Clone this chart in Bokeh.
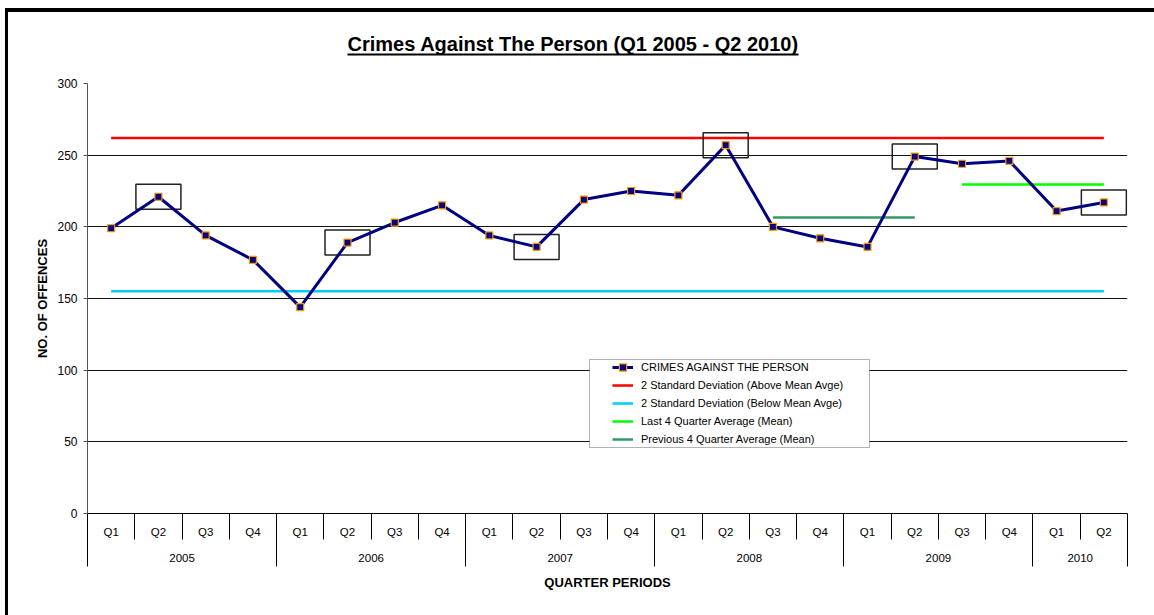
from bokeh.plotting import figure
from bokeh.models import (Range1d, LinearAxis, FixedTicker, Grid,
                          BoxAnnotation, Legend, LegendItem)
from bokeh.embed import file_html
from bokeh.resources import INLINE

# ---------------- data ----------------
quarter_labels = ["Q1", "Q2", "Q3", "Q4", "Q1", "Q2", "Q3", "Q4", "Q1", "Q2", "Q3",
                  "Q4", "Q1", "Q2", "Q3", "Q4", "Q1", "Q2", "Q3", "Q4", "Q1", "Q2"]
quarter_years = ["2005"] * 4 + ["2006"] * 4 + ["2007"] * 4 + ["2008"] * 4 + ["2009"] * 4 + ["2010"] * 2
offences = [199, 221, 194, 177, 144, 189, 203, 215, 194, 186, 219,
            225, 222, 257, 200, 192, 186, 249, 244, 246, 211, 217]
upper_2sd = 262.0          # 2 Standard Deviation (Above Mean Avge)
lower_2sd = 155.0          # 2 Standard Deviation (Below Mean Avge)
last4_mean = 229.5         # Last 4 Quarter Average (Mean)
prev4_mean = 206.5         # Previous 4 Quarter Average (Mean)
highlighted = [1, 5, 9, 13, 17, 21]   # boxed quarters
y_ticks = [0, 50, 100, 150, 200, 250, 300]

TITLE = "Crimes Against The Person (Q1 2005 - Q2 2010)"
FONT = "Liberation Sans"
n = len(offences)
centers = [i + 0.5 for i in range(n)]
boundaries = list(range(n + 1))

years = []
year_start, year_end = {}, {}
for i, yr in enumerate(quarter_years):
    if yr not in year_start:
        years.append(yr)
        year_start[yr] = i
    year_end[yr] = i + 1
year_centers = [(year_start[y] + year_end[y]) / 2 for y in years]
year_bounds = sorted(set([year_start[y] for y in years] + [year_end[y] for y in years]))

last4 = list(range(n - 4, n))
prev4 = list(range(n - 8, n - 4))

# ---------------- layout constants ----------------
W, H = 1154, 615
ML, MT = 87, 83
FRAME_W, FRAME_H = 1040, 430
MR = W - ML - FRAME_W
MB = H - MT - FRAME_H
px_per_cat = FRAME_W / n
title_offset_px = 260
title_width_px = 451

p = figure(width=W, height=H,
           min_border_left=ML, min_border_right=MR, min_border_top=MT, min_border_bottom=MB,
           x_range=Range1d(0, n), y_range=Range1d(0, 300),
           x_axis_type=None, y_axis_type=None,
           output_backend="svg", toolbar_location=None)
p.background_fill_color = "white"
p.border_fill_color = "white"
p.border_fill_alpha = 0
p.outline_line_color = None
# pinned to the window; thick black chart-area edge on the left and top
p.styles = {"position": "fixed", "top": "0px", "left": "0px", "background-color": "white",
            "box-shadow": "inset 5px 8px 0 0 white, inset 8px 12px 0 0 black"}

# ---------------- title (underlined) ----------------
p.title.text = TITLE
p.title.align = "left"
p.title.offset = title_offset_px
p.title.standoff = 0
p.title.text_font = FONT
p.title.text_font_size = "20px"
p.title.text_font_style = "bold"
p.title.text_color = "black"

# invisible spacer between the plot area and the title underline
spacer = LinearAxis(ticker=FixedTicker(ticks=[centers[0]]),
                    major_label_overrides={centers[0]: "x"})
spacer.axis_line_color = None
spacer.major_tick_line_color = None
spacer.minor_tick_line_color = None
spacer.major_tick_out = 29
spacer.major_tick_in = 0
spacer.minor_tick_out = 0
spacer.major_label_standoff = 0
spacer.major_label_text_font = FONT
spacer.major_label_text_font_size = "10px"
spacer.major_label_text_alpha = 0
p.add_layout(spacer, "above")

underline = LinearAxis(ticker=FixedTicker(ticks=[]),
                       bounds=(title_offset_px / px_per_cat,
                               (title_offset_px + title_width_px) / px_per_cat))
underline.axis_line_color = "black"
underline.axis_line_width = 2
underline.major_tick_line_color = None
underline.minor_tick_line_color = None
underline.major_tick_out = 0
underline.major_tick_in = 0
underline.minor_tick_out = 0
underline.major_label_standoff = 0
p.add_layout(underline, "above")

# ---------------- y axis + grid ----------------
yaxis = LinearAxis(ticker=FixedTicker(ticks=y_ticks), axis_label="NO. OF OFFENCES")
yaxis.axis_line_color = "#555555"
yaxis.major_tick_line_color = "#555555"
yaxis.major_tick_out = 4
yaxis.major_tick_in = 0
yaxis.minor_tick_line_color = None
yaxis.major_label_standoff = 6
yaxis.major_label_text_font = FONT
yaxis.major_label_text_font_size = "12px"
yaxis.major_label_text_color = "black"
yaxis.axis_label_text_font = FONT
yaxis.axis_label_text_font_size = "13px"
yaxis.axis_label_text_font_style = "bold"
yaxis.axis_label_text_color = "black"
yaxis.axis_label_standoff = 4
p.add_layout(yaxis, "left")
p.add_layout(Grid(dimension=1, ticker=yaxis.ticker, grid_line_color="#111111", grid_line_width=1))

# ---------------- x axes (quarters / years) ----------------
q_axis = LinearAxis(ticker=FixedTicker(ticks=centers, minor_ticks=boundaries),
                    major_label_overrides={c: q for c, q in zip(centers, quarter_labels)})
q_axis.axis_line_color = "black"
q_axis.major_tick_out = 0
q_axis.major_tick_in = 0
q_axis.major_tick_line_color = None
q_axis.minor_tick_out = 26
q_axis.minor_tick_in = 0
q_axis.minor_tick_line_color = "black"
q_axis.major_label_standoff = -14
q_axis.major_label_text_font = FONT
q_axis.major_label_text_font_size = "11.5px"
q_axis.major_label_text_color = "black"
p.add_layout(q_axis, "below")

yr_axis = LinearAxis(ticker=FixedTicker(ticks=year_centers, minor_ticks=year_bounds),
                     major_label_overrides={c: y for c, y in zip(year_centers, years)},
                     axis_label="QUARTER PERIODS")
yr_axis.axis_line_color = None
yr_axis.major_tick_out = 0
yr_axis.major_tick_in = 0
yr_axis.major_tick_line_color = None
yr_axis.minor_tick_in = 25
yr_axis.minor_tick_out = 26
yr_axis.minor_tick_line_color = "black"
yr_axis.major_label_standoff = -13
yr_axis.major_label_text_font = FONT
yr_axis.major_label_text_font_size = "11.5px"
yr_axis.major_label_text_color = "black"
yr_axis.axis_label_text_font = FONT
yr_axis.axis_label_text_font_size = "13px"
yr_axis.axis_label_text_font_style = "bold"
yr_axis.axis_label_text_color = "black"
yr_axis.axis_label_standoff = 10
p.add_layout(yr_axis, "below")

# ---------------- glyphs ----------------
r_up = p.line([centers[0], centers[-1]], [upper_2sd, upper_2sd], line_color="#FF0000", line_width=2.5)
r_lo = p.line([centers[0], centers[-1]], [lower_2sd, lower_2sd], line_color="#00CCFF", line_width=2.5)
r_l4 = p.line([centers[last4[0]], centers[last4[-1]]], [last4_mean, last4_mean],
              line_color="#00FF00", line_width=2.5)
r_p4 = p.line([centers[prev4[0]], centers[prev4[-1]]], [prev4_mean, prev4_mean],
              line_color="#339966", line_width=2.5)

p.rect(x=[centers[i] for i in highlighted], y=[offences[i] for i in highlighted],
       width=45, height=25, width_units="screen", height_units="screen",
       fill_color=None, line_color="#222222", line_width=1.5)

r_line = p.line(centers, offences, line_color="#000080", line_width=3)
r_pts = p.scatter(centers, offences, marker="square", size=7,
                  fill_color="#000080", line_color="#FF9900", line_width=1.2)

# ---------------- legend ----------------
p.add_layout(BoxAnnotation(left=502, right=782, bottom=66, top=154,
                           left_units="screen", right_units="screen",
                           bottom_units="screen", top_units="screen",
                           fill_color="white", fill_alpha=1.0,
                           line_color="black", line_width=1))
legend = Legend(items=[
    LegendItem(label="CRIMES AGAINST THE PERSON", renderers=[r_line, r_pts]),
    LegendItem(label="2 Standard Deviation (Above Mean Avge)", renderers=[r_up]),
    LegendItem(label="2 Standard Deviation (Below Mean Avge)", renderers=[r_lo]),
    LegendItem(label="Last 4 Quarter Average (Mean)", renderers=[r_l4]),
    LegendItem(label="Previous 4 Quarter Average (Mean)", renderers=[r_p4]),
], location=(525, 65))
legend.padding = 0
legend.margin = 0
legend.spacing = 0
legend.glyph_width = 21
legend.glyph_height = 18
legend.label_height = 18
legend.label_standoff = 8
legend.label_text_font = FONT
legend.label_text_font_size = "11px"
legend.label_text_color = "black"
legend.border_line_color = None
legend.background_fill_alpha = 0
p.add_layout(legend)

open("out.html", "w").write(file_html(p, INLINE))
